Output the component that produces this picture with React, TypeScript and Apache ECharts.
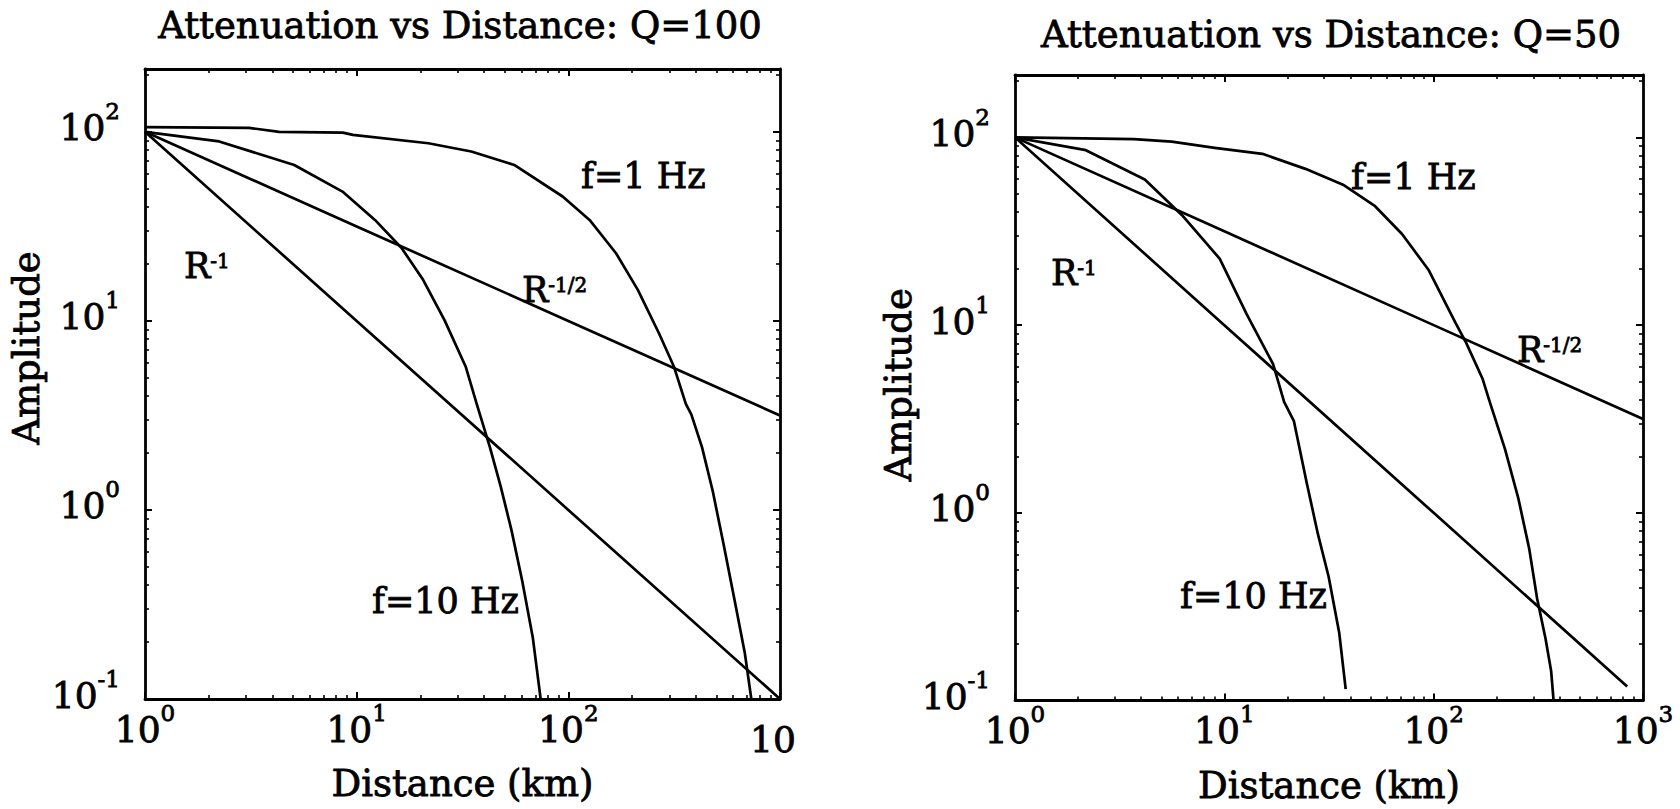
import React, { useEffect, useRef } from 'react';
import * as echarts from 'echarts';

// Amplitude vs distance (km) readings for each curve, Q = 100
const q100Freq1Hz: [number, number][] = [
  [1, 106], [3.1, 105], [4.3, 100], [8.6, 99], [9.6, 96.4], [21.8, 87], [34.8, 78.7],
  [55.5, 66.8], [94, 45.5], [126, 34.2], [168, 22.8], [213, 14.6], [268, 8.6],
  [316, 5.7], [359, 3.64], [381, 3.2], [428, 2.15], [481, 1.26], [541, 0.66],
  [608, 0.34], [682, 0.175], [732, 0.1],
];
const q100Freq10Hz: [number, number][] = [
  [1, 100], [2.24, 89], [5.07, 66.8], [8.57, 48.3], [12.2, 34.2], [16.3, 24.3],
  [20.6, 16.5], [26, 10.1], [32.8, 5.7], [36.9, 3.64], [42.6, 2.15], [48, 1.32],
  [53.9, 0.78], [60.6, 0.42], [68, 0.21], [74, 0.1],
];
const q100InvR: [number, number][] = [[1, 100], [10, 10], [100, 1], [1000, 0.1]];
const q100InvSqrtR: [number, number][] = [[1, 100], [10, 31.6], [100, 10], [1000, 3.16]];

// Amplitude vs distance (km) readings for each curve, Q = 50
const q50Freq1Hz: [number, number][] = [
  [1, 100], [3.7, 98], [5.6, 95], [9, 88], [15.2, 81.8], [24.4, 68], [36.9, 56],
  [52.5, 43], [70.6, 30.6], [94.8, 19.6], [127, 10.3], [143, 8.05], [171, 5.2],
  [184, 4.0], [219, 2.19], [254, 1.19], [286, 0.645], [312, 0.35], [342, 0.215],
  [364, 0.144], [374, 0.1],
];
const q50Freq10Hz: [number, number][] = [
  [1, 100], [2.18, 85.5], [4.17, 59.7], [6.28, 38.5], [9.5, 22.6], [12.8, 11.4],
  [17.1, 6.2], [19.3, 3.9], [21.5, 3.08], [24.8, 1.43], [28, 0.77], [31.5, 0.457],
  [35.4, 0.229], [38, 0.115],
];
const q50InvR: [number, number][] = [[1, 100], [10, 10], [100, 1], [840, 0.119]];
const q50InvSqrtR: [number, number][] = [[1, 100], [10, 31.6], [100, 10], [1000, 3.16]];

// Decade tick labels as [mantissa, exponent]
const xTickLabelsQ100: [string, string][] = [['10', '0'], ['10', '1'], ['10', '2'], ['10', '']];
const xTickLabelsQ50: [string, string][] = [['10', '0'], ['10', '1'], ['10', '2'], ['10', '3']];
const yTickLabels: [string, string][] = [['10', '-1'], ['10', '0'], ['10', '1'], ['10', '2']];

const panelTitles = ['Attenuation vs Distance: Q=100', 'Attenuation vs Distance: Q=50'];

const X_MIN = 1;
const X_MAX = 1000;
const Y_MIN = 0.1;
const Y_MAX = 215;

const FONT = '"DejaVu Serif", "Liberation Serif", serif';
const INK = '#000';
const INK_STROKE = 0.8; // thickens the serif strokes a little

function minorTickLogs(min: number, max: number): number[] {
  const out: number[] = [];
  for (let d = Math.floor(Math.log10(min)); d <= Math.ceil(Math.log10(max)); d++) {
    for (let k = 2; k <= 9; k++) {
      const v = k * Math.pow(10, d);
      if (v > min && v < max) out.push(Math.log10(v));
    }
  }
  return out;
}

const inked = { textBorderColor: INK, textBorderWidth: INK_STROKE };

// Superscript is lifted by padding its bottom edge.
const tickRich = {
  b: { fontFamily: FONT, fontSize: 36, lineHeight: 36, color: INK, ...inked },
  s: { fontFamily: FONT, fontSize: 23, lineHeight: 23, padding: [0, 0, 33, 0], color: INK, ...inked },
  c: { fontFamily: FONT, fontSize: 36, lineHeight: 56, color: INK, padding: [0, 14, 0, 0], ...inked },
};

function decadeFormatter(labels: [string, string][], firstExp: number) {
  return (value: number) => {
    const lg = Math.log10(value);
    const e = Math.round(lg);
    if (Math.abs(lg - e) > 1e-6) return '';
    const item = labels[e - firstExp];
    if (!item) return '';
    return item[1] ? `{b|${item[0]}}{s|${item[1]}}` : `{c|${item[0]}}`;
  };
}

const labelRich = {
  b: { fontFamily: FONT, fontSize: 35, lineHeight: 31, fill: INK, color: INK, stroke: INK, lineWidth: INK_STROKE },
  s: {
    fontFamily: FONT, fontSize: 20, lineHeight: 20, verticalAlign: 'top',
    fill: INK, color: INK, stroke: INK, lineWidth: INK_STROKE,
  },
};

function textEl(x: number, y: number, text: string, size: number, align: string, rich?: any) {
  return {
    type: 'text',
    x,
    y,
    silent: true,
    style: {
      text,
      fontFamily: FONT,
      fontSize: size,
      fill: INK,
      stroke: INK,
      lineWidth: INK_STROKE,
      align,
      textAlign: align,
      verticalAlign: 'middle',
      textVerticalAlign: 'middle',
      rich,
    },
  };
}

const panels = [
  {
    grid: { left: 145, top: 69, width: 635, height: 630 },
    xLabels: xTickLabelsQ100,
    yNameGap: 100,
    yNameShift: 72,
    curves: [q100Freq1Hz, q100Freq10Hz, q100InvR, q100InvSqrtR],
  },
  {
    grid: { left: 1015, top: 75, width: 628, height: 630 },
    xLabels: xTickLabelsQ50,
    yNameGap: 92,
    yNameShift: 6,
    curves: [q50Freq1Hz, q50Freq10Hz, q50InvR, q50InvSqrtR],
  },
];

function buildOption() {
  const grid: any[] = [];
  const xAxis: any[] = [];
  const yAxis: any[] = [];
  const series: any[] = [];

  const majorTick = { show: true, inside: true, length: 7, lineStyle: { color: INK, width: 2 } };
  const minorTickStyle = { color: INK, width: 1.6 };
  const boxLine = { show: true, onZero: false, lineStyle: { color: INK, width: 2.8 } };
  const noLine = { show: false, onZero: false };
  const xMinor = minorTickLogs(X_MIN, X_MAX);
  const yMinor = minorTickLogs(Y_MIN, Y_MAX);
  const nameStyle = { fontFamily: FONT, fontSize: 37, color: INK, ...inked };

  panels.forEach((p, i) => {
    grid.push({ ...p.grid, containLabel: false });

    const xBase = { gridIndex: i, splitLine: { show: false } };
    const xLog = { ...xBase, type: 'log', logBase: 10, min: X_MIN, max: X_MAX };
    const xVal = { ...xBase, type: 'value', min: Math.log10(X_MIN), max: Math.log10(X_MAX) };
    const xStart = xAxis.length;
    xAxis.push(
      {
        ...xLog,
        position: 'bottom',
        name: 'Distance (km)',
        nameLocation: 'middle',
        nameGap: 66,
        nameTextStyle: nameStyle,
        axisLine: boxLine,
        axisTick: majorTick,
        axisLabel: {
          margin: 12,
          color: INK,
          formatter: decadeFormatter(p.xLabels, 0),
          rich: tickRich,
        },
      },
      { ...xLog, position: 'top', axisLine: boxLine, axisTick: majorTick, axisLabel: { show: false } },
      {
        ...xVal,
        position: 'bottom',
        axisLine: noLine,
        axisTick: { show: true, inside: true, length: 4, customValues: xMinor, lineStyle: minorTickStyle },
        axisLabel: { show: false },
      },
      {
        ...xVal,
        position: 'top',
        axisLine: noLine,
        axisTick: { show: true, inside: true, length: 4, customValues: xMinor, lineStyle: minorTickStyle },
        axisLabel: { show: false },
      }
    );

    const yBase = { gridIndex: i, splitLine: { show: false } };
    const yLog = { ...yBase, type: 'log', logBase: 10, min: Y_MIN, max: Y_MAX };
    const yVal = { ...yBase, type: 'value', min: Math.log10(Y_MIN), max: Math.log10(Y_MAX) };
    const yStart = yAxis.length;
    yAxis.push(
      {
        ...yLog,
        position: 'left',
        name: 'Amplitude',
        nameLocation: 'middle',
        nameRotate: 90,
        nameGap: p.yNameGap,
        nameTextStyle: { ...nameStyle, padding: [0, 0, 0, p.yNameShift] },
        axisLine: boxLine,
        axisTick: majorTick,
        axisLabel: {
          margin: 25,
          color: INK,
          padding: [0, 0, 8, 0],
          formatter: decadeFormatter(yTickLabels, -1),
          rich: tickRich,
        },
      },
      { ...yLog, position: 'right', axisLine: boxLine, axisTick: majorTick, axisLabel: { show: false } },
      {
        ...yVal,
        position: 'left',
        axisLine: noLine,
        axisTick: { show: true, inside: true, length: 4, customValues: yMinor, lineStyle: minorTickStyle },
        axisLabel: { show: false },
      },
      {
        ...yVal,
        position: 'right',
        axisLine: noLine,
        axisTick: { show: true, inside: true, length: 4, customValues: yMinor, lineStyle: minorTickStyle },
        axisLabel: { show: false },
      }
    );

    p.curves.forEach((data) => {
      series.push({
        type: 'line',
        xAxisIndex: xStart,
        yAxisIndex: yStart,
        data,
        showSymbol: false,
        symbol: 'none',
        silent: true,
        lineStyle: { color: INK, width: 2.7, join: 'round' },
      });
    });
  });

  const graphic = [
    textEl(460, 25, panelTitles[0], 37, 'center'),
    textEl(1331, 34, panelTitles[1], 37, 'center'),
    textEl(581, 176, 'f=1 Hz', 35, 'left'),
    textEl(372, 601, 'f=10 Hz', 35, 'left'),
    textEl(184, 266, '{b|R}{s|-1}', 35, 'left', labelRich),
    textEl(522, 290, '{b|R}{s|-1/2}', 35, 'left', labelRich),
    textEl(1351, 177, 'f=1 Hz', 35, 'left'),
    textEl(1180, 596, 'f=10 Hz', 35, 'left'),
    textEl(1051, 273, '{b|R}{s|-1}', 35, 'left', labelRich),
    textEl(1517, 350, '{b|R}{s|-1/2}', 35, 'left', labelRich),
  ];

  return {
    animation: false,
    backgroundColor: '#fff',
    textStyle: { fontFamily: FONT, color: INK },
    grid,
    xAxis,
    yAxis,
    series,
    graphic,
  };
}

export default function App() {
  const ref = useRef<HTMLDivElement>(null);

  useEffect(() => {
    if (!ref.current) return;
    const chart = echarts.init(ref.current, undefined, { renderer: 'svg' });
    chart.setOption(buildOption() as any);
    return () => chart.dispose();
  }, []);

  return (
    <div
      ref={ref}
      style={{ position: 'fixed', left: 0, top: 0, width: 1680, height: 809, background: '#fff' }}
    />
  );
}
